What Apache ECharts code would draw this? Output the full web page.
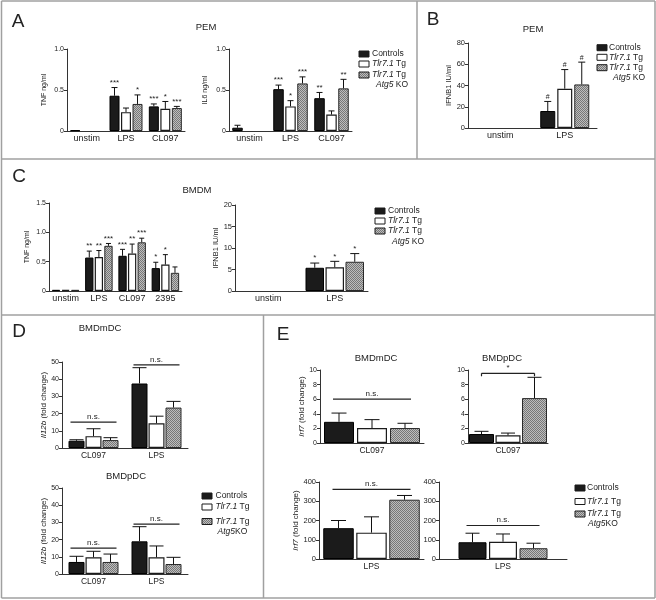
<!DOCTYPE html>
<html><head><meta charset="utf-8">
<script src="https://cdn.jsdelivr.net/npm/echarts@6/dist/echarts.min.js"></script>
<style>html,body{margin:0;padding:0;background:#fff}#c{width:656px;height:600px}</style>
</head><body><div id="c"></div>
<script>
// ---------------- DATA ----------------
const groupNames = ['Controls', 'Tlr7.1 Tg', 'Tlr7.1 Tg Atg5 KO'];

// A: PEM TNF (ng/ml)
const pemTnfCats = ['unstim', 'LPS', 'CL097'];
const pemTnfControls = [0.01, 0.43, 0.30];
const pemTnfControlsErr = [0, 0.10, 0.03];
const pemTnfControlsStars = ['', '***', '***'];
const pemTnfTlr = [0, 0.23, 0.27];
const pemTnfTlrErr = [0, 0.05, 0.09];
const pemTnfTlrStars = ['', '', '*'];
const pemTnfAtg5 = [0, 0.33, 0.28];
const pemTnfAtg5Err = [0, 0.11, 0.02];
const pemTnfAtg5Stars = ['', '*', '***'];

// A: PEM IL6 (ng/ml)
const pemIl6Cats = ['unstim', 'LPS', 'CL097'];
const pemIl6Controls = [0.04, 0.51, 0.40];
const pemIl6ControlsErr = [0.03, 0.05, 0.07];
const pemIl6ControlsStars = ['', '***', '**'];
const pemIl6Tlr = [0, 0.30, 0.20];
const pemIl6TlrErr = [0, 0.07, 0.045];
const pemIl6TlrStars = ['', '*', ''];
const pemIl6Atg5 = [0, 0.58, 0.52];
const pemIl6Atg5Err = [0, 0.08, 0.11];
const pemIl6Atg5Stars = ['', '***', '**'];

// B: PEM IFNB1 (IU/ml)
const pemIfnCats = ['unstim', 'LPS'];
const pemIfnControls = [0, 16];
const pemIfnControlsErr = [0, 9];
const pemIfnTlr = [0, 37];
const pemIfnTlrErr = [0, 18];
const pemIfnAtg5 = [0, 41];
const pemIfnAtg5Err = [0, 21];
const pemIfnStars = ['', '#'];

// C: BMDM TNF (ng/ml)
const bmdmTnfCats = ['unstim', 'LPS', 'CL097', '2395'];
const bmdmTnfControls = [0.02, 0.57, 0.60, 0.39];
const bmdmTnfControlsErr = [0, 0.11, 0.11, 0.10];
const bmdmTnfControlsStars = ['', '**', '***', '*'];
const bmdmTnfTlr = [0.02, 0.58, 0.64, 0.45];
const bmdmTnfTlrErr = [0, 0.11, 0.16, 0.17];
const bmdmTnfTlrStars = ['', '**', '**', '*'];
const bmdmTnfAtg5 = [0.02, 0.77, 0.83, 0.31];
const bmdmTnfAtg5Err = [0, 0.04, 0.07, 0.10];
const bmdmTnfAtg5Stars = ['', '***', '***', ''];

// C: BMDM IFNB1 (IU/ml)
const bmdmIfnCats = ['unstim', 'LPS'];
const bmdmIfnControls = [0, 5.4];
const bmdmIfnControlsErr = [0, 1.1];
const bmdmIfnTlr = [0, 5.5];
const bmdmIfnTlrErr = [0, 1.4];
const bmdmIfnAtg5 = [0, 6.8];
const bmdmIfnAtg5Err = [0, 1.9];
const bmdmIfnStars = ['', '*'];

// D: Il12b fold change
const il12bCats = ['CL097', 'LPS'];
const il12bMdcControls = [4.2, 37.5];
const il12bMdcControlsErr = [0.6, 9.2];
const il12bMdcTlr = [6.9, 14.4];
const il12bMdcTlrErr = [4.3, 4.1];
const il12bMdcAtg5 = [4.6, 23.5];
const il12bMdcAtg5Err = [1.4, 3.6];
const il12bMdcSig = [15, 48.3];
const il12bPdcControls = [7.0, 19.0];
const il12bPdcControlsErr = [3.3, 8.5];
const il12bPdcTlr = [9.7, 9.7];
const il12bPdcTlrErr = [3.5, 6.6];
const il12bPdcAtg5 = [7.0, 5.8];
const il12bPdcAtg5Err = [4.6, 3.9];
const il12bPdcSig = [15, 29];

// E: Irf7 fold change
const irf7CL097Cats = ['CL097'];
const irf7LpsCats = ['LPS'];
const irf7MdcCL097 = [2.9, 2.05, 2.05];
const irf7MdcCL097Err = [1.2, 1.15, 0.65];
const irf7MdcCL097Sig = 6.0;
const irf7PdcCL097 = [1.23, 1.05, 6.15];
const irf7PdcCL097Err = [0.37, 0.31, 2.85];
const irf7PdcCL097Sig = 9.55;
const irf7MdcLps = [160, 137, 308];
const irf7MdcLpsErr = [40, 82, 22];
const irf7MdcLpsSig = 362;
const irf7PdcLps = [87, 90, 56];
const irf7PdcLpsErr = [47, 40, 26];
const irf7PdcLpsSig = 174;

// ---------------- STYLE ----------------
const FONT = '"Liberation Sans", Arial, Helvetica, sans-serif';
const TXT = '#222';
const AX = '#333';

function makePattern() {
  const cv = document.createElement('canvas');
  cv.width = 4; cv.height = 4;
  const ctx = cv.getContext('2d');
  for (let y = 0; y < 4; y++) for (let x = 0; x < 4; x++) {
    ctx.fillStyle = ((x + y) % 2 === 0) ? '#777777' : '#bdbdbd';
    ctx.fillRect(x, y, 1, 1);
  }
  return cv;
}
const pattern = makePattern();
const barStyles = [
  { color: '#1b1b1b', borderColor: '#000', borderWidth: 1 },
  { color: '#ffffff', borderColor: '#1b1b1b', borderWidth: 1.2 },
  { color: { image: pattern, repeat: 'repeat' }, borderColor: '#2a2a2a', borderWidth: 1 }
];
const fmt1 = v => (v === 0 ? '0' : v.toFixed(1));
const fmtInt = v => String(v);
const italicRich = size => ({ i: { fontStyle: 'italic', fontSize: size, fontFamily: FONT, color: TXT } });

function grp(v, e, s) { return { v, e, s: s || v.map(() => '') }; }
function single(arr, errArr) {
  return [0, 1, 2].map(k => grp([arr[k]], [errArr[k]]));
}

const panels = [
  { left: 67, top: 49, width: 118, height: 82, cats: pemTnfCats, yMax: 1, yInt: 0.5, fmt: fmt1,
    name: 'TNF ng/ml', nameGap: 19, nameSize: 7, bw: 10, gap: 1.5, cap: 3, tick: 7, cat: 9,
    groups: [grp(pemTnfControls, pemTnfControlsErr, pemTnfControlsStars), grp(pemTnfTlr, pemTnfTlrErr, pemTnfTlrStars), grp(pemTnfAtg5, pemTnfAtg5Err, pemTnfAtg5Stars)], ann: [] },
  { left: 229, top: 49, width: 123, height: 82, cats: pemIl6Cats, yMax: 1, yInt: 0.5, fmt: fmt1,
    name: 'IL6 ng/ml', nameGap: 20, nameSize: 7, bw: 10.5, gap: 1.5, cap: 3, tick: 7, cat: 9,
    groups: [grp(pemIl6Controls, pemIl6ControlsErr, pemIl6ControlsStars), grp(pemIl6Tlr, pemIl6TlrErr, pemIl6TlrStars), grp(pemIl6Atg5, pemIl6Atg5Err, pemIl6Atg5Stars)], ann: [] },
  { left: 468, top: 43, width: 129, height: 85, cats: pemIfnCats, yMax: 80, yInt: 20, fmt: fmtInt,
    name: 'IFNB1 IU/ml', nameGap: 13, nameSize: 7.5, bw: 15, gap: 2, cap: 3.5, tick: 7.5, cat: 9,
    groups: [grp(pemIfnControls, pemIfnControlsErr, pemIfnStars), grp(pemIfnTlr, pemIfnTlrErr, pemIfnStars), grp(pemIfnAtg5, pemIfnAtg5Err, pemIfnStars)], ann: [] },
  { left: 49, top: 203, width: 133, height: 88, cats: bmdmTnfCats, yMax: 1.5, yInt: 0.5, fmt: fmt1,
    name: 'TNF ng/ml', nameGap: 18, nameSize: 7, bw: 8.3, gap: 1.3, cap: 2.5, tick: 7, cat: 9,
    groups: [grp(bmdmTnfControls, bmdmTnfControlsErr, bmdmTnfControlsStars), grp(bmdmTnfTlr, bmdmTnfTlrErr, bmdmTnfTlrStars), grp(bmdmTnfAtg5, bmdmTnfAtg5Err, bmdmTnfAtg5Stars)], ann: [] },
  { left: 235, top: 205, width: 133, height: 86, cats: bmdmIfnCats, yMax: 20, yInt: 5, fmt: fmtInt,
    name: 'IFNB1 IU/ml', nameGap: 14, nameSize: 7.5, bw: 18.5, gap: 1.5, cap: 4.5, tick: 7.5, cat: 9,
    groups: [grp(bmdmIfnControls, bmdmIfnControlsErr, bmdmIfnStars), grp(bmdmIfnTlr, bmdmIfnTlrErr, bmdmIfnStars), grp(bmdmIfnAtg5, bmdmIfnAtg5Err, bmdmIfnStars)], ann: [] },
  { left: 62, top: 362, width: 126, height: 86, cats: il12bCats, yMax: 50, yInt: 10, fmt: fmtInt,
    name: '{i|Il12b} (fold change)', nameGap: 9.5, nameSize: 8, bw: 16, gap: 1, cap: 7, tick: 7, cat: 8.5,
    groups: [grp(il12bMdcControls, il12bMdcControlsErr), grp(il12bMdcTlr, il12bMdcTlrErr), grp(il12bMdcAtg5, il12bMdcAtg5Err)],
    ann: il12bMdcSig.map((y, c) => ({ c, y, text: 'n.s.', type: 'line', ext: 6 })) },
  { left: 62, top: 488, width: 126, height: 86, cats: il12bCats, yMax: 50, yInt: 10, fmt: fmtInt,
    name: '{i|Il12b} (fold change)', nameGap: 11, nameSize: 8, bw: 16, gap: 1, cap: 7, tick: 7, cat: 8.5,
    groups: [grp(il12bPdcControls, il12bPdcControlsErr), grp(il12bPdcTlr, il12bPdcTlrErr), grp(il12bPdcAtg5, il12bPdcAtg5Err)],
    ann: il12bPdcSig.map((y, c) => ({ c, y, text: 'n.s.', type: 'line', ext: 6 })) },
  { left: 320, top: 370, width: 104, height: 73, cats: irf7CL097Cats, yMax: 10, yInt: 2, fmt: fmtInt,
    name: '{i|Irf7} (fold change)', nameGap: 10.5, nameSize: 8, bw: 30, gap: 3, cap: 7.5, tick: 7, cat: 8.5,
    groups: single(irf7MdcCL097, irf7MdcCL097Err),
    ann: [{ c: 0, y: irf7MdcCL097Sig, text: 'n.s.', type: 'line', ext: 6 }] },
  { left: 468, top: 370, width: 80, height: 73, cats: irf7CL097Cats, yMax: 10, yInt: 2, fmt: fmtInt,
    name: '', nameGap: 10, nameSize: 8, bw: 25, gap: 1.5, cap: 7, tick: 7, cat: 8.5,
    groups: single(irf7PdcCL097, irf7PdcCL097Err),
    ann: [{ c: 0, y: irf7PdcCL097Sig, text: '*', type: 'bracket', ext: 0 }] },
  { left: 319, top: 482, width: 105, height: 77, cats: irf7LpsCats, yMax: 400, yInt: 100, fmt: fmtInt,
    name: '{i|Irf7} (fold change)', nameGap: 12.5, nameSize: 8, bw: 30.5, gap: 2.5, cap: 7.5, tick: 7.5, cat: 8.5,
    groups: single(irf7MdcLps, irf7MdcLpsErr),
    ann: [{ c: 0, y: irf7MdcLpsSig, text: 'n.s.', type: 'line', ext: 6 }] },
  { left: 439, top: 482, width: 128, height: 77, cats: irf7LpsCats, yMax: 400, yInt: 100, fmt: fmtInt,
    name: '', nameGap: 10, nameSize: 8, bw: 28, gap: 2.5, cap: 7, tick: 7.5, cat: 8.5,
    groups: single(irf7PdcLps, irf7PdcLpsErr),
    ann: [{ c: 0, y: irf7PdcLpsSig, text: 'n.s.', type: 'line', ext: 6 }] }
];

// ---------------- OPTION ----------------
const option = { animation: false, grid: [], xAxis: [], yAxis: [], series: [], graphic: { elements: [] } };

panels.forEach((p, i) => {
  option.grid.push({ left: p.left, top: p.top, width: p.width, height: p.height });
  option.xAxis.push({
    type: 'category', gridIndex: i, data: p.cats,
    axisLine: { lineStyle: { color: AX, width: 1 } }, axisTick: { show: false },
    axisLabel: { color: TXT, fontSize: p.cat, fontFamily: FONT, margin: 3, interval: 0 }
  });
  option.yAxis.push({
    type: 'value', gridIndex: i, min: 0, max: p.yMax, interval: p.yInt,
    splitLine: { show: false },
    axisLine: { show: true, lineStyle: { color: AX, width: 1 } },
    axisTick: { show: true, length: 3, lineStyle: { color: AX } },
    axisLabel: { color: TXT, fontSize: p.tick, fontFamily: FONT, margin: 3, formatter: p.fmt },
    name: p.name, nameLocation: 'middle', nameGap: p.nameGap,
    nameTextStyle: { color: TXT, fontSize: p.nameSize, fontFamily: FONT, rich: italicRich(p.nameSize) }
  });
  const gapPct = (p.gap / p.bw * 100) + '%';
  p.groups.forEach((g, k) => {
    option.series.push({
      type: 'bar', name: groupNames[k], xAxisIndex: i, yAxisIndex: i,
      data: g.v.map(v => (v === 0 ? null : v)),
      barWidth: p.bw, barGap: gapPct, itemStyle: barStyles[k], silent: true, z: 2
    });
  });
  const n = p.groups.length;
  const total = n * p.bw + (n - 1) * p.gap;
  const barX = (cx, k) => cx - total / 2 + k * (p.bw + p.gap) + p.bw / 2;
  // error bars + stars
  const errData = [], errStars = [];
  p.groups.forEach((g, k) => g.v.forEach((v, c) => { errData.push([c, v, g.e[c], k]); errStars.push(g.s[c] || ''); }));
  option.series.push({
    type: 'custom', xAxisIndex: i, yAxisIndex: i, data: errData, clip: false, z: 5, silent: true,
    renderItem: (params, api) => {
      const c = api.value(0), v = api.value(1), e = api.value(2), k = api.value(3);
      const base = api.coord([c, v]);
      const x = barX(base[0], k);
      const children = [];
      let topY = base[1];
      if (e > 0) {
        const top = api.coord([c, v + e])[1];
        children.push({ type: 'line', shape: { x1: x, y1: base[1], x2: x, y2: top }, style: { stroke: '#111', lineWidth: 1 } });
        children.push({ type: 'line', shape: { x1: x - p.cap, y1: top, x2: x + p.cap, y2: top }, style: { stroke: '#111', lineWidth: 1 } });
        topY = top;
      }
      const s = errStars[params.dataIndex];
      if (s) children.push({ type: 'text', x: x, y: topY - 1,
        style: { text: s, fontSize: s === '#' ? 7 : 8, fontFamily: FONT, fill: TXT, align: 'center', verticalAlign: 'bottom', textAlign: 'center', textVerticalAlign: 'bottom' } });
      return { type: 'group', children };
    }
  });
  // significance annotations
  if (p.ann.length) {
    option.series.push({
      type: 'custom', xAxisIndex: i, yAxisIndex: i, data: p.ann.map(a => [a.c, a.y]), clip: false, z: 6, silent: true,
      renderItem: (params, api) => {
        const a = p.ann[params.dataIndex];
        const pt = api.coord([api.value(0), api.value(1)]);
        const x1 = barX(pt[0], 0) - a.ext, x2 = barX(pt[0], n - 1) + a.ext;
        const children = [{ type: 'line', shape: { x1, y1: pt[1], x2, y2: pt[1] }, style: { stroke: '#222', lineWidth: 1.2 } }];
        if (a.type === 'bracket') {
          children.push({ type: 'line', shape: { x1, y1: pt[1], x2: x1, y2: pt[1] + 3 }, style: { stroke: '#222', lineWidth: 1.2 } });
          children.push({ type: 'line', shape: { x1: x2, y1: pt[1], x2: x2, y2: pt[1] + 3 }, style: { stroke: '#222', lineWidth: 1.2 } });
        }
        children.push({ type: 'text', x: (x1 + x2) / 2, y: pt[1] - 1.5,
          style: { text: a.text, fontSize: 8, fontFamily: FONT, fill: TXT, align: 'center', verticalAlign: 'bottom', textAlign: 'center', textVerticalAlign: 'bottom' } });
        return { type: 'group', children };
      }
    });
  }
});

// ---------------- GRAPHIC: frames, titles, letters, legends ----------------
const G = option.graphic.elements;
const frameStyle = { stroke: '#a0a0a0', lineWidth: 1.5 };
[[1.5, 1, 655, 1], [1.5, 598, 655, 598], [1.5, 1, 1.5, 598], [655, 1, 655, 598],
 [417, 1, 417, 159], [1.5, 159, 655, 159], [1.5, 315, 655, 315], [263.5, 315, 263.5, 598]]
  .forEach(l => G.push({ type: 'line', silent: true, shape: { x1: l[0], y1: l[1], x2: l[2], y2: l[3] }, style: frameStyle }));

function txt(text, x, y, size, extra) {
  G.push({ type: 'text', x, y, silent: true,
    style: Object.assign({ text, fontSize: size, fontFamily: FONT, fill: TXT, align: 'center', verticalAlign: 'middle', textAlign: 'center', textVerticalAlign: 'middle' }, extra || {}) });
}
txt('A', 18, 22, 19); txt('B', 433, 20, 19); txt('C', 19, 177, 19); txt('D', 19, 332, 19); txt('E', 283, 335, 19);
txt('PEM', 206, 27, 9.5); txt('PEM', 533, 29.5, 9.5); txt('BMDM', 197, 190, 9.5);
txt('BMDmDC', 100, 328, 9.5); txt('BMDpDC', 126, 476, 9.5);
txt('BMDmDC', 376, 358, 9.5); txt('BMDpDC', 502, 358, 9.5);

function legend(sqX, textX, rows, size, indent, ko) {
  const fills = ['#1b1b1b', '#ffffff', { image: pattern, repeat: 'repeat' }];
  const labels = ['Controls', '{i|Tlr7.1} Tg', '{i|Tlr7.1} Tg'];
  for (let k = 0; k < 3; k++) {
    G.push({ type: 'rect', silent: true, shape: { x: sqX, y: rows[k] - 3, width: 10, height: 6 },
      style: { fill: fills[k], stroke: '#1b1b1b', lineWidth: 1 } });
    txt(labels[k], textX, rows[k], size, { align: 'left', textAlign: 'left', rich: italicRich(size) });
  }
  txt('{i|Atg5}' + ko, textX + indent, rows[3], size, { align: 'left', textAlign: 'left', rich: italicRich(size) });
}
legend(359, 372, [54, 64, 75, 84.5], 8.5, 4, ' KO');
legend(597, 609, [47.7, 57.3, 67.7, 77.7], 8.5, 4, ' KO');
legend(375, 388, [211, 221, 231, 241.5], 8.5, 4, ' KO');
legend(202, 215.5, [496, 507, 521.5, 531.5], 8.5, 2, 'KO');
legend(575, 587, [488, 501.5, 514, 524], 8.5, 1, 'KO');

const chart = echarts.init(document.getElementById('c'), null, { renderer: 'canvas' });
chart.setOption(option);
</script>
</body></html>
